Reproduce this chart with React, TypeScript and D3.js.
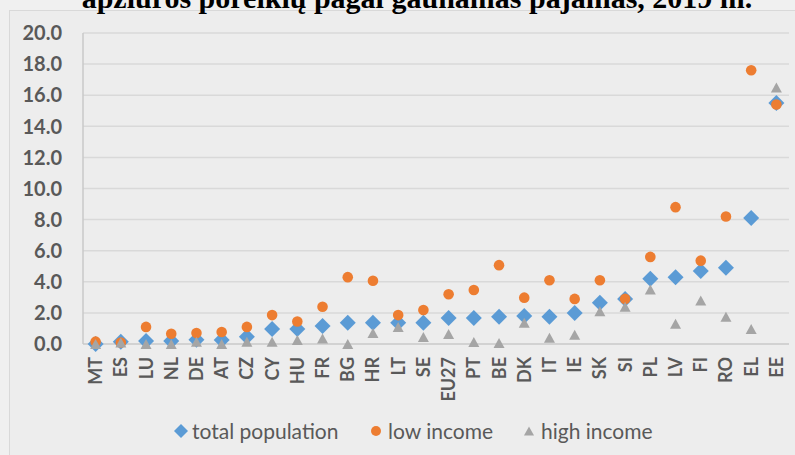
import React from "react";
import * as d3 from "d3";

const categories = ["MT","ES","LU","NL","DE","AT","CZ","CY","HU","FR","BG","HR","LT","SE","EU27","PT","BE","DK","IT","IE","SK","SI","PL","LV","FI","RO","EL","EE"];
const totalPopulation = [0.0,0.15,0.2,0.2,0.28,0.25,0.47,0.96,0.96,1.16,1.37,1.37,1.37,1.37,1.67,1.67,1.76,1.8,1.76,2.0,2.66,2.9,4.2,4.3,4.7,4.9,8.1,15.5];
const lowIncome = [0.15,0.1,1.1,0.66,0.7,0.77,1.1,1.86,1.45,2.4,4.3,4.07,1.86,2.19,3.2,3.47,5.07,2.98,4.1,2.9,4.1,2.9,5.6,8.8,5.36,8.2,17.6,15.4];
const highIncome = [0.0,0.1,0.0,0.0,0.15,0.0,0.15,0.15,0.26,0.35,0.0,0.7,1.1,0.45,0.64,0.13,0.06,1.37,0.4,0.6,2.1,2.4,3.5,1.3,2.8,1.76,0.96,16.5];
const yTicks = [0,2,4,6,8,10,12,14,16,18,20];
const title = "apžiūros poreikių pagal gaunamas pajamas, 2019 m.";
const legendLabels = ["total population","low income","high income"];

const W = 795, H = 455;
const BLUE = "#5B9BD5", ORANGE = "#ED7D31", GRAY = "#A5A5A5";
const TEXT = "#595959";

export default function App() {
  const x = d3.scaleBand<string>().domain(categories).range([83, 789]);
  const y = d3.scaleLinear().domain([0, 20]).range([344, 33]);
  const cx = (c: string) => (x(c) as number) + x.bandwidth() / 2;

  const diamond = (px: number, py: number, s: number) =>
    `M${px},${py - s}L${px + s},${py}L${px},${py + s}L${px - s},${py}Z`;
  const tri = (px: number, py: number, w: number, h: number) =>
    `M${px},${py - h / 2}L${px + w / 2},${py + h / 2}L${px - w / 2},${py + h / 2}Z`;

  return (
    <svg width={W} height={H} style={{ position: "absolute", left: 0, top: 0, background: "#f0f0f0" }}>
      <rect x={9.5} y={10.5} width={W} height={H} fill="#ededed" stroke="#d9d9d9" strokeWidth={1} />
      <text x={417} y={7.5} textAnchor="middle" fontFamily="'Liberation Serif', serif" fontWeight="bold" fontSize={30} fill="#000">{title}</text>
      {yTicks.map((t) => (
        <g key={t}>
          <line x1={83} x2={789} y1={y(t)} y2={y(t)} stroke={t === 0 ? "#c8c8c8" : "#d9d9d9"} strokeWidth={1.5} />
          <text x={62} y={y(t)} dy="0.36em" textAnchor="end" fontFamily="Lato, sans-serif" fontWeight="bold" fontSize={20} fill={TEXT}>{t.toFixed(1)}</text>
        </g>
      ))}
      <line x1={83} x2={83} y1={33} y2={344} stroke="#c8c8c8" strokeWidth={1.5} />
      {categories.map((c) => (
        <text key={c} transform={`translate(${cx(c)},357) rotate(-90)`} dy="0.36em" textAnchor="end" fontFamily="Lato, sans-serif" fontWeight="bold" fontSize={18} fill={TEXT}>{c}</text>
      ))}
      {categories.map((c, i) => (
        <path key={"d" + c} d={diamond(cx(c), y(totalPopulation[i]), 8)} fill={BLUE} />
      ))}
      {categories.map((c, i) => (
        <circle key={"c" + c} cx={cx(c)} cy={y(lowIncome[i])} r={5.3} fill={ORANGE} />
      ))}
      {categories.map((c, i) => (
        <path key={"t" + c} d={tri(cx(c), y(highIncome[i]), 11, 10)} fill={GRAY} />
      ))}
      <g fontFamily="Lato, sans-serif" fontSize={21} fill={TEXT}>
        <path d={diamond(181, 431, 7)} fill={BLUE} />
        <text x={192} y={431} dy="0.36em">{legendLabels[0]}</text>
        <circle cx={376} cy={431} r={5} fill={ORANGE} />
        <text x={388} y={431} dy="0.36em">{legendLabels[1]}</text>
        <path d={tri(529, 431, 10, 9)} fill={GRAY} />
        <text x={541} y={431} dy="0.36em">{legendLabels[2]}</text>
      </g>
    </svg>
  );
}
